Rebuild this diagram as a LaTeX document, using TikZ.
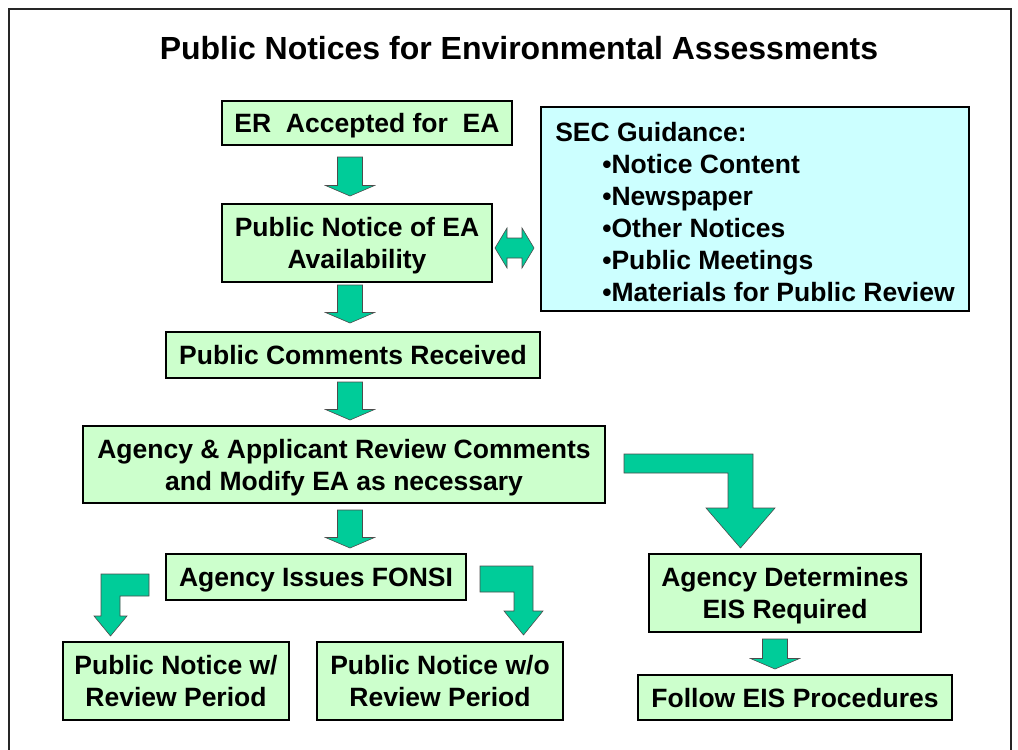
\documentclass[tikz,border=0pt]{standalone}
\usepackage{fontspec}
\setmainfont{Liberation Sans}
\usetikzlibrary{calc}
\definecolor{boxgreen}{HTML}{CCFFCC}
\definecolor{arrowgreen}{HTML}{00CC99}
\definecolor{seccyan}{HTML}{CCFFFF}
\tikzset{
  flowbox/.style={draw=black, line width=2pt, fill=boxgreen, align=center, inner sep=0pt,
    font=\bfseries\fontsize{26.5}{32}\selectfont, text height=19pt, text depth=0pt},
  twoline/.style={text height=51pt, text depth=0pt},
  blockarrow/.style={draw=black!70, line width=0.6pt, fill=arrowgreen, line join=miter},
  frameline/.style={draw=black!85, line width=1.5pt}
}
% straight downward block arrow: #1 shaft top centre, #2 tip
\newcommand\vblock[2]{%
  \draw[blockarrow] let \p1=(#1), \p2=(#2) in
    ({\x1-12.5pt},\y1) -- ({\x1+12.5pt},\y1) -- ({\x1+12.5pt},{\y2+10.5pt})
    -- ({\x1+24.5pt},{\y2+10.5pt}) -- (\x1,\y2) -- ({\x1-24.5pt},{\y2+10.5pt})
    -- ({\x1-12.5pt},{\y2+10.5pt}) -- cycle;}
% bent block arrow: #1 start (bar end centre), #2 tip, #3 bar half thickness,
% #4 shaft half width, #5 head half width, #6 head length, #7 direction (1 / -1)
\newcommand\bentblock[7]{%
  \draw[blockarrow] let \p1=(#1), \p2=(#2) in
    (\x1,{\y1+#3}) -- ({\x2+(#7)*(#4)},{\y1+#3}) -- ({\x2+(#7)*(#4)},{\y2+#6})
    -- ({\x2+(#7)*(#5)},{\y2+#6}) -- (\x2,\y2) -- ({\x2-(#7)*(#5)},{\y2+#6})
    -- ({\x2-(#7)*(#4)},{\y2+#6}) -- ({\x2-(#7)*(#4)},{\y1-#3}) -- (\x1,{\y1-#3}) -- cycle;}
% horizontal double block arrow from #1 (left tip) to #2 (right tip)
\newcommand\dblock[2]{%
  \draw[blockarrow] let \p1=(#1), \p2=(#2) in
    (\x1,\y1) -- ({\x1+12pt},{\y1+20pt}) -- ({\x1+12pt},{\y1+10pt}) -- ({\x2-12pt},{\y1+10pt})
    -- ({\x2-12pt},{\y1+20pt}) -- (\x2,\y1) -- ({\x2-12pt},{\y1-20pt}) -- ({\x2-12pt},{\y1-10pt})
    -- ({\x1+12pt},{\y1-10pt}) -- ({\x1+12pt},{\y1-20pt}) -- cycle;}
\begin{document}
\begin{tikzpicture}[x=1pt, y=-1pt]
\useasboundingbox (0,0) rectangle (1018,750);
\draw[frameline] (9,750) -- (9,9) -- (1011,9) -- (1011,750);

\node[font=\bfseries\fontsize{32}{38}\selectfont, text height=23pt, text depth=0pt] (title) at (519,48) {Public Notices for Environmental Assessments};

\node[flowbox, minimum width=290pt, minimum height=44pt] (er) at (367,123) {ER~~Accepted for~~EA};
\node[flowbox, twoline, minimum width=270pt, minimum height=78pt] (pn) at (357,243) {Public Notice of EA\\Availability};
\node[flowbox, fill=seccyan, align=left, text height=185pt, minimum width=428pt, minimum height=204pt] (sec) at (755,209)
  {SEC Guidance:\\
   \hspace*{47pt}•Notice Content\\
   \hspace*{47pt}•Newspaper\\
   \hspace*{47pt}•Other Notices\\
   \hspace*{47pt}•Public Meetings\\
   \hspace*{47pt}•Materials for Public Review};
\node[flowbox, minimum width=374pt, minimum height=46pt] (pc) at (353,355) {Public Comments Received};
\node[flowbox, twoline, minimum width=522pt, minimum height=77pt] (aa) at (344,464.5) {Agency \& Applicant Review Comments\\and Modify EA as necessary};
\node[flowbox, minimum width=300pt, minimum height=46pt] (fonsi) at (316,577) {Agency Issues FONSI};
\node[flowbox, twoline, minimum width=226pt, minimum height=78pt] (pw) at (176,681) {Public Notice w/\\Review Period};
\node[flowbox, twoline, minimum width=246pt, minimum height=78pt] (pwo) at (440,681) {Public Notice w/o\\Review Period};
\node[flowbox, twoline, minimum width=272pt, minimum height=78pt] (ad) at (785,593) {Agency Determines\\EIS Required};
\node[flowbox, minimum width=314pt, minimum height=45pt] (fe) at (795,697.5) {Follow EIS Procedures};

% arrow axes
\coordinate (spine) at (350,0);
\coordinate (eisx) at (775,0);

% straight arrows
\coordinate (a1s) at ($(er.south -| spine)+(0,11)$);
\coordinate (a1e) at ($(pn.north -| spine)+(0,-7)$);
\vblock{a1s}{a1e}
\coordinate (a2s) at ($(pn.south -| spine)+(0,2)$);
\coordinate (a2e) at ($(pc.north -| spine)+(0,-8)$);
\vblock{a2s}{a2e}
\coordinate (a3s) at ($(pc.south -| spine)+(0,3)$);
\coordinate (a3e) at ($(aa.north -| spine)+(0,-5)$);
\vblock{a3s}{a3e}
\coordinate (a4s) at ($(aa.south -| spine)+(0,6)$);
\coordinate (a4e) at ($(fonsi.north -| spine)+(0,-5)$);
\vblock{a4s}{a4e}
\coordinate (a5s) at ($(ad.south -| eisx)+(0,6)$);
\coordinate (a5e) at ($(fe.north -| eisx)+(0,-5)$);
\vblock{a5s}{a5e}

% double arrow to guidance
\coordinate (d1) at ($(pn.east)+(2,5)$);
\coordinate (d2) at ($(sec.west |- d1)+(-6,0)$);
\dblock{d1}{d2}

% bent arrows
\coordinate (bls) at ($(fonsi.west)+(-16,8)$);
\coordinate (ble) at ($(pw.north)+(-65.5,-5)$);
\bentblock{bls}{ble}{11pt}{9.5pt}{16.5pt}{20pt}{-1}
\coordinate (brs) at ($(fonsi.east)+(13,2)$);
\coordinate (bre) at ($(pwo.north)+(83.5,-6)$);
\bentblock{brs}{bre}{13pt}{9.5pt}{19.5pt}{24pt}{1}
\coordinate (bbs) at ($(aa.east)+(18,-1)$);
\coordinate (bbe) at ($(ad.north)+(-44.5,-5)$);
\bentblock{bbs}{bbe}{9.5pt}{12.5pt}{34.5pt}{40pt}{1}
\end{tikzpicture}
\end{document}
